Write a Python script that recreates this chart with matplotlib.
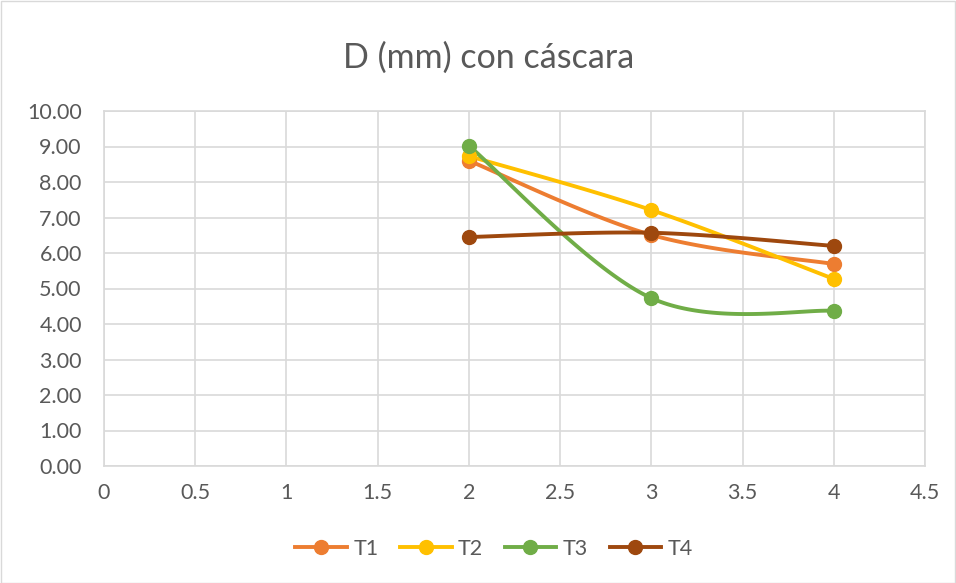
import matplotlib.pyplot as plt
from matplotlib.ticker import FormatStrFormatter, FuncFormatter
import numpy as np

# Data
x_vals = [2, 3, 4]
t1 = [8.60, 6.51, 5.69]
t2 = [8.73, 7.21, 5.27]
t3 = [9.02, 4.73, 4.37]
t4 = [6.45, 6.57, 6.20]
series_names = ["T1", "T2", "T3", "T4"]
series_colors = ["#ED7D31", "#FFC000", "#70AD47", "#9E480E"]

plt.rcParams['font.family'] = ['Lato', 'DejaVu Sans']

W, H = 956, 583
fig = plt.figure(figsize=(W / 100, H / 100), dpi=100)
ax = fig.add_axes([104 / W, 1 - 466 / H, (925 - 104) / W, (466 - 111) / H])

xlim = (0, 4.5)
ylim = (0, 10)
ax.set_xlim(*xlim)
ax.set_ylim(*ylim)

# pixels per data unit, so the smoothing is done in screen space like Excel
sx = (925 - 104) / (xlim[1] - xlim[0])
sy = (466 - 111) / (ylim[1] - ylim[0])


def excel_smooth(xs, ys, n=60):
    """Cubic Bezier smoothing similar to Excel's 'smoothed line'."""
    px = np.array(xs, float) * sx
    py = np.array(ys, float) * sy
    pts = np.column_stack([px, py])
    out = [pts[0]]
    k = len(pts)
    for i in range(k - 1):
        p0 = pts[i - 1] if i > 0 else pts[i]
        p1 = pts[i]
        p2 = pts[i + 1]
        p3 = pts[i + 2] if i + 2 < k else pts[i + 1]
        c1 = p1 + (p2 - p0) / 6
        c2 = p2 - (p3 - p1) / 6
        t = np.linspace(0, 1, n)[1:, None]
        seg = ((1 - t) ** 3) * p1 + 3 * ((1 - t) ** 2) * t * c1 + 3 * (1 - t) * t ** 2 * c2 + t ** 3 * p2
        out.extend(seg)
    out = np.array(out)
    return out[:, 0] / sx, out[:, 1] / sy


for name, ys, col in zip(series_names, [t1, t2, t3, t4], series_colors):
    cx, cy = excel_smooth(x_vals, ys)
    ax.plot(cx, cy, color=col, linewidth=2.8, solid_capstyle='round', zorder=3)
    ax.plot(x_vals, ys, linestyle='none', marker='o', markersize=10, color=col, zorder=4)
    # legend proxy
    ax.plot([], [], color=col, linewidth=2.8, marker='o', markersize=10, label=name)

ax.set_xticks(np.arange(0, 4.51, 0.5))
ax.set_yticks(np.arange(0, 10.01, 1))
ax.xaxis.set_major_formatter(FuncFormatter(lambda v, p: f"{v:g}"))
ax.yaxis.set_major_formatter(FormatStrFormatter('%.2f'))

ax.grid(True, color='#D9D9D9', linewidth=1.2, zorder=0)
ax.set_axisbelow(True)
for s in ax.spines.values():
    s.set_color('#D9D9D9')
    s.set_linewidth(1.2)
ax.tick_params(axis='both', length=0, labelsize=15.5, colors='#595959')
ax.tick_params(axis='y', pad=16)
ax.tick_params(axis='x', pad=12)

fig.text(489 / W, 1 - 58 / H, "D (mm) con cáscara", ha='center', va='center',
         fontsize=24.5, color='#595959')

fig.legend(loc='center', bbox_to_anchor=(494 / W, 1 - 549 / H), ncol=4, frameon=False,
           fontsize=15.5, labelcolor='#595959', handlelength=2.4, columnspacing=1.0,
           handletextpad=0.3)

# chart border
fig.patches.append(plt.Rectangle((0.5 / W, 0.5 / H), 1 - 1.5 / W, 1 - 1.5 / H,
                                 transform=fig.transFigure, fill=False,
                                 edgecolor='#D9D9D9', linewidth=1))

fig.savefig("out.png", dpi=100)
